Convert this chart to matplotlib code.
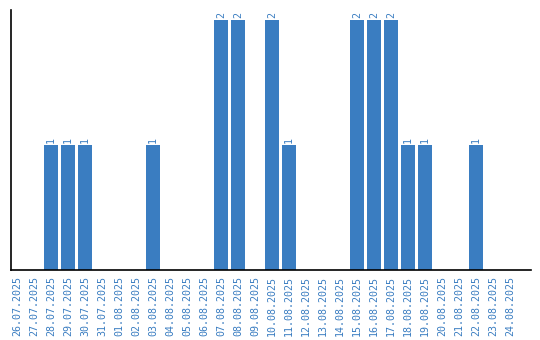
import matplotlib.pyplot as plt

dates = ['26.07.2025', '27.07.2025', '28.07.2025', '29.07.2025', '30.07.2025',
         '31.07.2025', '01.08.2025', '02.08.2025', '03.08.2025', '04.08.2025',
         '05.08.2025', '06.08.2025', '07.08.2025', '08.08.2025', '09.08.2025',
         '10.08.2025', '11.08.2025', '12.08.2025', '13.08.2025', '14.08.2025',
         '15.08.2025', '16.08.2025', '17.08.2025', '18.08.2025', '19.08.2025',
         '20.08.2025', '21.08.2025', '22.08.2025', '23.08.2025', '24.08.2025']
counts = [0, 0, 1, 1, 1, 0, 0, 0, 1, 0,
          0, 0, 2, 2, 0, 2, 1, 0, 0, 0,
          2, 2, 2, 1, 1, 0, 0, 1, 0, 0]

blue = '#3a7dc1'

fig = plt.figure(figsize=(5.4, 3.4), dpi=100)
ax = fig.add_axes([10.5 / 540, 70 / 340, 520.5 / 540, 260 / 340])

x = list(range(len(dates)))
bars = ax.bar(x, counts, width=0.82, color=blue)

for i, v in enumerate(counts):
    if v > 0:
        ax.text(i, v + 0.015, str(v), rotation=90, ha='center', va='bottom',
                color=blue, fontsize=7.2, family='DejaVu Sans Mono')

ax.set_xticks(x)
ax.set_xticklabels(dates, rotation=90, color=blue, fontsize=7.2,
                   family='DejaVu Sans Mono')
ax.tick_params(axis='x', length=0, pad=4.5)
ax.set_yticks([])
ax.set_xlim(-6.5 / 17, 29 + 21 / 17)
ax.set_ylim(0, 2.08)
ax.spines['top'].set_visible(False)
ax.spines['right'].set_visible(False)
ax.spines['left'].set_linewidth(1.2)
ax.spines['bottom'].set_linewidth(1.2)

plt.savefig('out.png', dpi=100)
